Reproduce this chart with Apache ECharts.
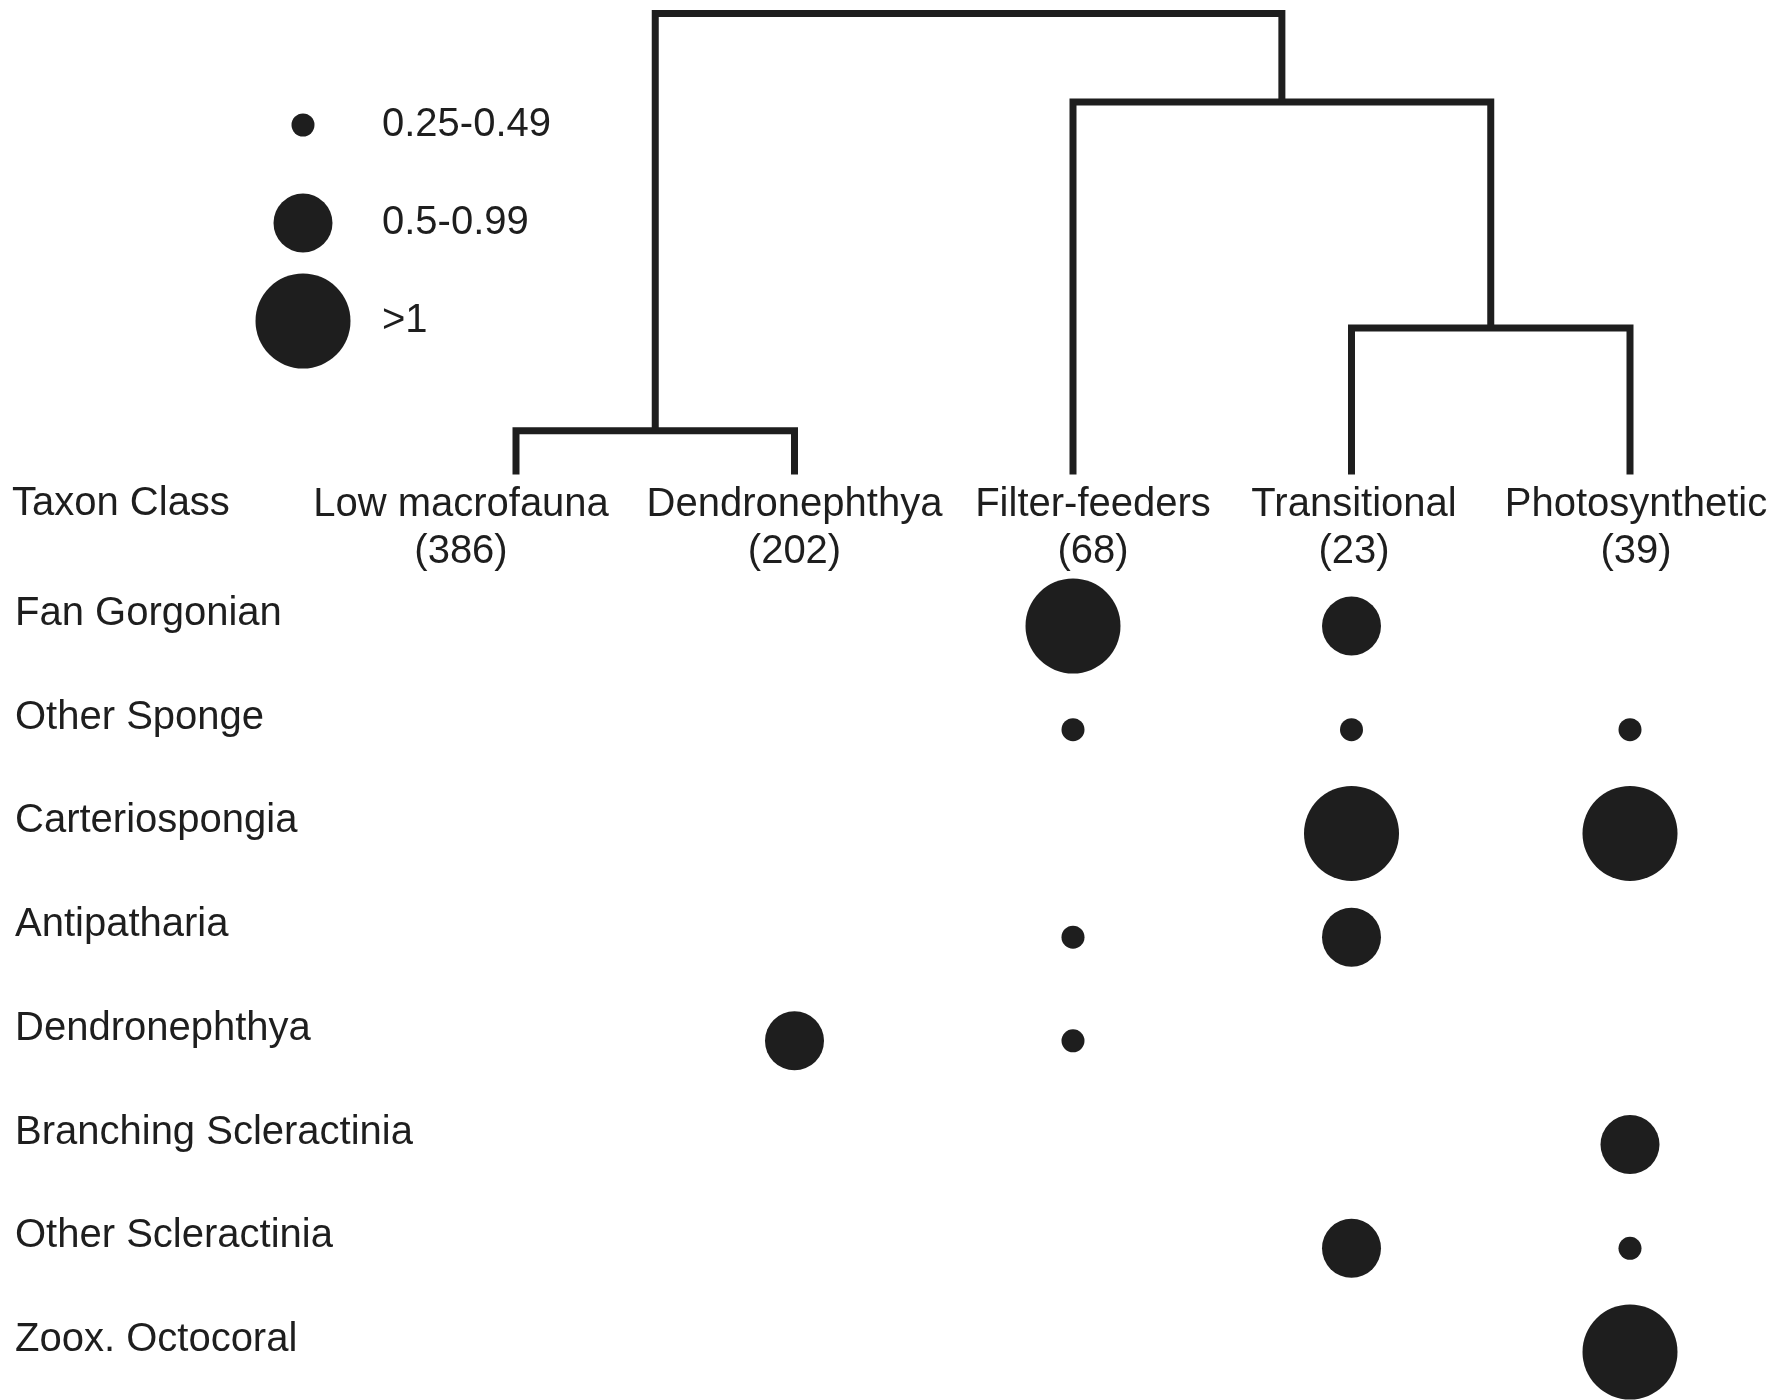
<!DOCTYPE html>
<html>
<head>
<meta charset="utf-8">
<style>
html,body{margin:0;padding:0;background:#ffffff;}
#chart{width:1786px;height:1400px;}
</style>
<script src="https://cdn.jsdelivr.net/npm/echarts@6/dist/echarts.min.js"></script>
</head>
<body>
<div id="chart"></div>
<script>
// ---- data ----
const columns = ['Low macrofauna', 'Dendronephthya', 'Filter-feeders', 'Transitional', 'Photosynthetic'];
const columnCounts = [386, 202, 68, 23, 39];
const taxa = ['Fan Gorgonian', 'Other Sponge', 'Carteriospongia', 'Antipatharia', 'Dendronephthya',
              'Branching Scleractinia', 'Other Scleractinia', 'Zoox. Octocoral'];
const classLabels = ['0.25-0.49', '0.5-0.99', '>1'];
// indicator class per taxon (rows) and taxon class (columns): 0 none, 1 = 0.25-0.49, 2 = 0.5-0.99, 3 = >1
const sizeClass = [
  [0, 0, 3, 2, 0],   // Fan Gorgonian
  [0, 0, 1, 1, 1],   // Other Sponge
  [0, 0, 0, 3, 3],   // Carteriospongia
  [0, 0, 1, 2, 0],   // Antipatharia
  [0, 2, 1, 0, 0],   // Dendronephthya
  [0, 0, 0, 0, 2],   // Branching Scleractinia
  [0, 0, 0, 2, 1],   // Other Scleractinia
  [0, 0, 0, 0, 3]    // Zoox. Octocoral
];
// dendrogram merges (children: leaf column index or merge name), height = relative linkage distance
const merges = [
  { name: 'A', left: 0, right: 1, height: 0.095 },
  { name: 'C', left: 3, right: 4, height: 0.318 },
  { name: 'B', left: 2, right: 'C', height: 0.808 },
  { name: 'root', left: 'A', right: 'B', height: 1.0 }
];

// ---- build ----
const bubbleSizes = [23, 59, 95];
const FONT = "'Liberation Sans', Arial, Helvetica, sans-serif";
const INK = '#1e1e1e';
const FS = 40;

const bubbleData = [];
sizeClass.forEach((row, r) => row.forEach((cls, c) => { if (cls > 0) bubbleData.push([c, r, cls]); }));

const nodePos = {};
function nodeOf(ref) { return typeof ref === 'number' ? { x: ref, h: 0 } : nodePos[ref]; }
const dendroData = merges.map(m => {
  const l = nodeOf(m.left), r = nodeOf(m.right);
  nodePos[m.name] = { x: (l.x + r.x) / 2, h: m.height };
  return [l.x, l.h, r.x, r.h, m.height];
});

const legendData = classLabels.map((c, i) => [0, i, i + 1]);

// per-column header label nudges (label layout only)
const headerPad = [[0, 110, 0, 0], [0, 0, 0, 0], [0, 0, 0, 40], [0, 0, 0, 5], [0, 0, 0, 12]];
const headerRich = {};
headerPad.forEach((p, i) => {
  headerRich['c' + i] = { fontFamily: FONT, fontSize: FS, lineHeight: 47, color: INK, padding: p };
});

const chart = echarts.init(document.getElementById('chart'), null, { renderer: 'canvas' });
chart.setOption({
  backgroundColor: '#ffffff',
  animation: false,
  textStyle: { fontFamily: FONT, color: INK },
  title: {
    text: 'Taxon Class', left: 12, top: 484, padding: 0,
    textStyle: { fontFamily: FONT, fontSize: FS, fontWeight: 'normal', color: INK }
  },
  grid: [
    { left: 516, right: 156, top: 626, bottom: 48, outerBoundsMode: 'none' },
    { left: 516, right: 156, top: 13.5, bottom: 925.5, outerBoundsMode: 'none' },
    { left: 253, width: 100, top: 125, bottom: 1079, outerBoundsMode: 'none' }
  ],
  xAxis: [
    {
      gridIndex: 0, type: 'category', data: columns, position: 'top', boundaryGap: false,
      axisLine: { show: false }, axisTick: { show: false }, splitLine: { show: false },
      axisLabel: {
        interval: 0, margin: 51, fontSize: FS, lineHeight: 47, color: INK, fontFamily: FONT, align: 'center',
        formatter: (v, i) => '{c' + i + '|' + v + '}\n{c' + i + '|(' + columnCounts[i] + ')}',
        rich: headerRich
      }
    },
    { gridIndex: 1, type: 'value', min: 0, max: columns.length - 1, show: false },
    { gridIndex: 2, type: 'value', min: -1, max: 1, show: false }
  ],
  yAxis: [
    {
      gridIndex: 0, type: 'category', data: taxa, inverse: true, boundaryGap: false,
      axisLine: { show: false }, axisTick: { show: false }, splitLine: { show: false },
      axisLabel: {
        interval: 0, margin: 501, align: 'left', verticalAlign: 'bottom', lineHeight: 24,
        fontSize: FS, color: INK, fontFamily: FONT
      }
    },
    { gridIndex: 1, type: 'value', min: 0, max: 1, show: false },
    {
      gridIndex: 2, type: 'category', data: classLabels, inverse: true, boundaryGap: false, position: 'right',
      axisLine: { show: false }, axisTick: { show: false }, splitLine: { show: false },
      axisLabel: { interval: 0, margin: 29, align: 'left', fontSize: FS, color: INK, fontFamily: FONT }
    }
  ],
  series: [
    {
      type: 'scatter', xAxisIndex: 0, yAxisIndex: 0, data: bubbleData,
      symbol: 'circle', symbolSize: v => bubbleSizes[v[2] - 1],
      itemStyle: { color: INK, opacity: 1 }, silent: true, clip: false
    },
    {
      type: 'custom', xAxisIndex: 1, yAxisIndex: 1, data: dendroData, silent: true, clip: false,
      encode: { x: [0, 2], y: [1, 3, 4] },
      renderItem: (params, api) => {
        const p1 = api.coord([api.value(0), api.value(1)]);
        const p1t = api.coord([api.value(0), api.value(4)]);
        const p2t = api.coord([api.value(2), api.value(4)]);
        const p2 = api.coord([api.value(2), api.value(3)]);
        return {
          type: 'polyline',
          shape: { points: [p1, p1t, p2t, p2] },
          style: { stroke: INK, lineWidth: 7, fill: null, lineJoin: 'miter', lineCap: 'butt' }
        };
      }
    },
    {
      type: 'scatter', xAxisIndex: 2, yAxisIndex: 2, data: legendData,
      symbol: 'circle', symbolSize: v => bubbleSizes[v[2] - 1],
      itemStyle: { color: INK, opacity: 1 }, silent: true, clip: false
    }
  ]
});
</script>
</body>
</html>
